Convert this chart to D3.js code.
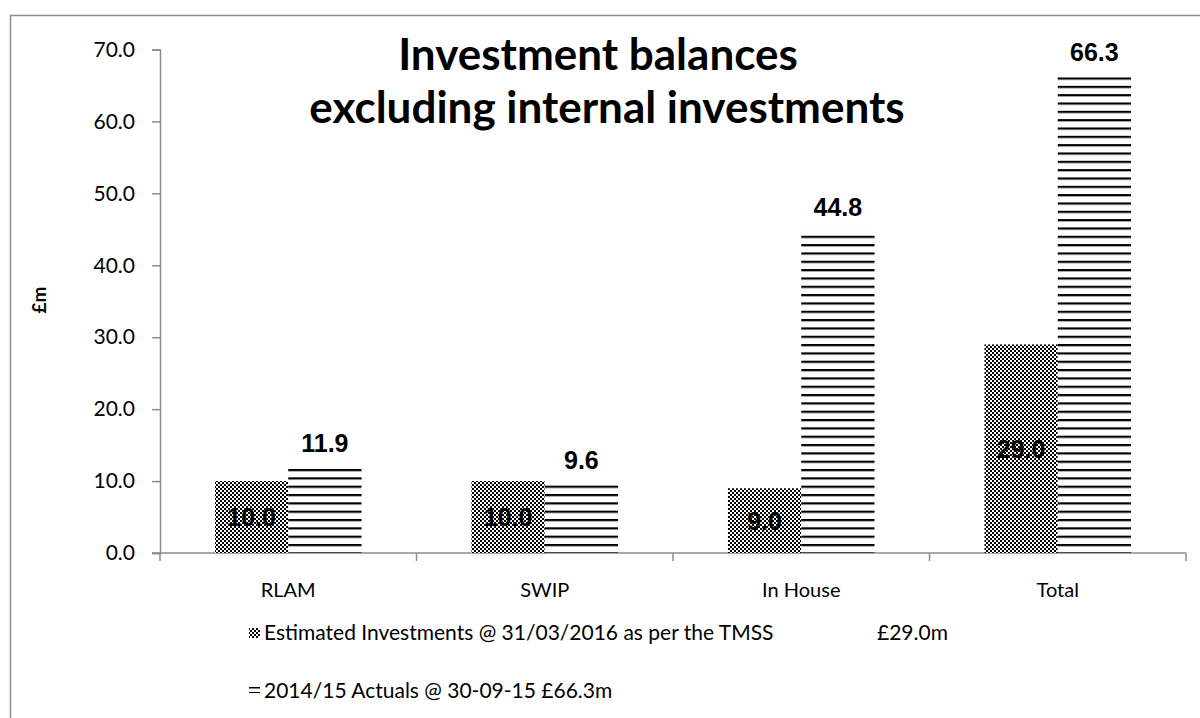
<!DOCTYPE html>
<html>
<head>
<meta charset="utf-8">
<script src="https://cdn.jsdelivr.net/npm/d3@7"></script>
<style>
  html, body { margin: 0; padding: 0; background: #fff; }
  #chart { width: 1200px; height: 718px; }
</style>
</head>
<body>
<div id="chart"></div>
<script>
// Chart data
const categories = ['RLAM', 'SWIP', 'In House', 'Total'];
const seriesNames = ['Estimated Investments @ 31/03/2016 as per the TMSS', '2014/15 Actuals @ 30-09-15 \u00a366.3m'];
const seriesNote = '\u00a329.0m';
const estimated = [10.0, 10.0, 9.0, 29.0];
const actuals = [11.9, 9.6, 44.8, 66.3];
const yTicks = [0, 10, 20, 30, 40, 50, 60, 70];
const titleLines = ['Investment balances', 'excluding internal investments'];

const container = document.getElementById('chart');
const W = 1200, H = 718;
const plot = { left: 160, right: 1186, top: 49.5, bottom: 553 };

const svg = d3.select(container)
    .append('svg')
    .attr('width', W)
    .attr('height', H);

// Fill patterns
const defs = svg.append('defs');
const checker = defs.append('pattern')
    .attr('id', 'checker')
    .attr('patternUnits', 'userSpaceOnUse')
    .attr('width', 4)
    .attr('height', 4);
checker.append('rect').attr('width', 4).attr('height', 4).attr('fill', '#fff');
checker.append('rect').attr('width', 2).attr('height', 2).attr('fill', '#000');
checker.append('rect').attr('x', 2).attr('y', 2).attr('width', 2).attr('height', 2).attr('fill', '#000');

const hlines = defs.append('pattern')
    .attr('id', 'hlines')
    .attr('patternUnits', 'userSpaceOnUse')
    .attr('y', 469)
    .attr('width', 10)
    .attr('height', 8.33);
hlines.append('rect').attr('width', 10).attr('height', 8.33).attr('fill', '#fff');
hlines.append('rect').attr('width', 10).attr('height', 2.2).attr('fill', '#000');

// smaller version for the legend key
const hlinesKey = defs.append('pattern')
    .attr('id', 'hlines-key')
    .attr('patternUnits', 'userSpaceOnUse')
    .attr('y', 687)
    .attr('width', 10)
    .attr('height', 5);
hlinesKey.append('rect').attr('width', 10).attr('height', 5).attr('fill', '#fff');
hlinesKey.append('rect').attr('width', 10).attr('height', 1.5).attr('fill', '#000');

// Outer chart border
svg.append('rect')
    .attr('x', 10.5)
    .attr('y', 15.5)
    .attr('width', 1200)
    .attr('height', 720)
    .attr('fill', 'none')
    .attr('stroke', '#8c8c8c')
    .attr('stroke-width', 1.5);

// Scales
const x = d3.scaleBand()
    .domain(categories)
    .range([plot.left, plot.right])
    .padding(0);

const xInner = d3.scaleBand()
    .domain([0, 1])
    .range([0, x.bandwidth()])
    .paddingInner(0)
    .paddingOuter(0.75);

const y = d3.scaleLinear()
    .domain([0, 70])
    .range([plot.bottom, plot.top]);

const axisColor = '#8c8c8c';
const tickFont = 'Lato, Carlito, Calibri, sans-serif';

// Y axis
const yAxis = svg.append('g')
    .attr('transform', `translate(${plot.left},0)`)
    .call(d3.axisLeft(y).tickValues(yTicks).tickFormat(d3.format('.1f')).tickSize(8).tickPadding(17));
yAxis.select('.domain').attr('stroke', axisColor).attr('stroke-width', 1.5);
yAxis.selectAll('.tick line').attr('stroke', axisColor).attr('stroke-width', 1.5);
yAxis.selectAll('.tick text')
    .style('font-family', tickFont)
    .style('font-size', '21px')
    .attr('fill', '#000');

// X axis (ticks at category boundaries)
const xAxis = svg.append('g')
    .attr('transform', `translate(0,${plot.bottom})`);
xAxis.append('line')
    .attr('x1', plot.left - 8)
    .attr('x2', plot.right)
    .attr('stroke', axisColor)
    .attr('stroke-width', 1.5);
const boundaries = categories.map(c => x(c)).concat([plot.right]);
xAxis.selectAll('.xtick')
    .data(boundaries)
    .enter()
    .append('line')
    .attr('class', 'xtick')
    .attr('x1', d => d)
    .attr('x2', d => d)
    .attr('y1', 0)
    .attr('y2', 8)
    .attr('stroke', axisColor)
    .attr('stroke-width', 1.5);
xAxis.selectAll('.xlabel')
    .data(categories)
    .enter()
    .append('text')
    .attr('class', 'xlabel')
    .attr('x', d => x(d) + x.bandwidth() / 2)
    .attr('y', 44)
    .attr('text-anchor', 'middle')
    .style('font-family', tickFont)
    .style('font-size', '20px')
    .text(d => d);

// Y axis title
svg.append('text')
    .attr('transform', 'translate(46,300) rotate(-90)')
    .attr('text-anchor', 'middle')
    .style('font-family', tickFont)
    .style('font-weight', 'bold')
    .style('font-size', '19px')
    .text('\u00a3m');

// Bars
const barData = [];
categories.forEach((c, i) => {
    barData.push({ cat: c, s: 0, value: estimated[i] });
    barData.push({ cat: c, s: 1, value: actuals[i] });
});

svg.selectAll('.bar')
    .data(barData)
    .enter()
    .append('rect')
    .attr('class', 'bar')
    .attr('x', d => x(d.cat) + xInner(d.s))
    .attr('y', d => y(d.value))
    .attr('width', xInner.bandwidth())
    .attr('height', d => y(0) - y(d.value))
    .attr('fill', d => d.s === 0 ? 'url(#checker)' : 'url(#hlines)');

// Data labels
const labelFont = '"Liberation Sans", Arial, sans-serif';
svg.selectAll('.lbl')
    .data(barData)
    .enter()
    .append('text')
    .attr('class', 'lbl')
    .attr('x', d => x(d.cat) + xInner(d.s) + xInner.bandwidth() / 2)
    .attr('y', d => d.s === 0 ? (y(d.value) + y(0)) / 2 + 9 : y(d.value) - 15)
    .attr('text-anchor', 'middle')
    .style('font-family', labelFont)
    .style('font-weight', 'bold')
    .style('font-size', '25px')
    .text(d => d3.format('.1f')(d.value));

// Title
const title = svg.append('text')
    .attr('text-anchor', 'middle')
    .style('font-family', tickFont)
    .style('font-weight', 'bold')
    .style('font-size', '44px');
title.append('tspan').attr('x', 598).attr('y', 70).text(titleLines[0]);
title.append('tspan').attr('x', 607).attr('y', 123).text(titleLines[1]);

// Legend
const legend = svg.append('g');
const legendRows = [
    { name: seriesNames[0], fill: 'url(#checker)', y: 632 },
    { name: seriesNames[1], fill: 'url(#hlines-key)', y: 690 }
];
legend.selectAll('.sw')
    .data(legendRows)
    .enter()
    .append('rect')
    .attr('class', 'sw')
    .attr('x', 249)
    .attr('y', d => d.y - 4)
    .attr('width', 11)
    .attr('height', d => d.fill === 'url(#checker)' ? 10 : 7)
    .attr('fill', d => d.fill);
legend.selectAll('.lt')
    .data(legendRows)
    .enter()
    .append('text')
    .attr('class', 'lt')
    .attr('x', 264)
    .attr('y', d => d.y + 8)
    .style('font-family', tickFont)
    .style('font-size', '21px')
    .text(d => d.name);
legend.append('text')
    .attr('x', 877)
    .attr('y', legendRows[0].y + 8)
    .style('font-family', tickFont)
    .style('font-size', '21px')
    .text(seriesNote);
</script>
</body>
</html>
